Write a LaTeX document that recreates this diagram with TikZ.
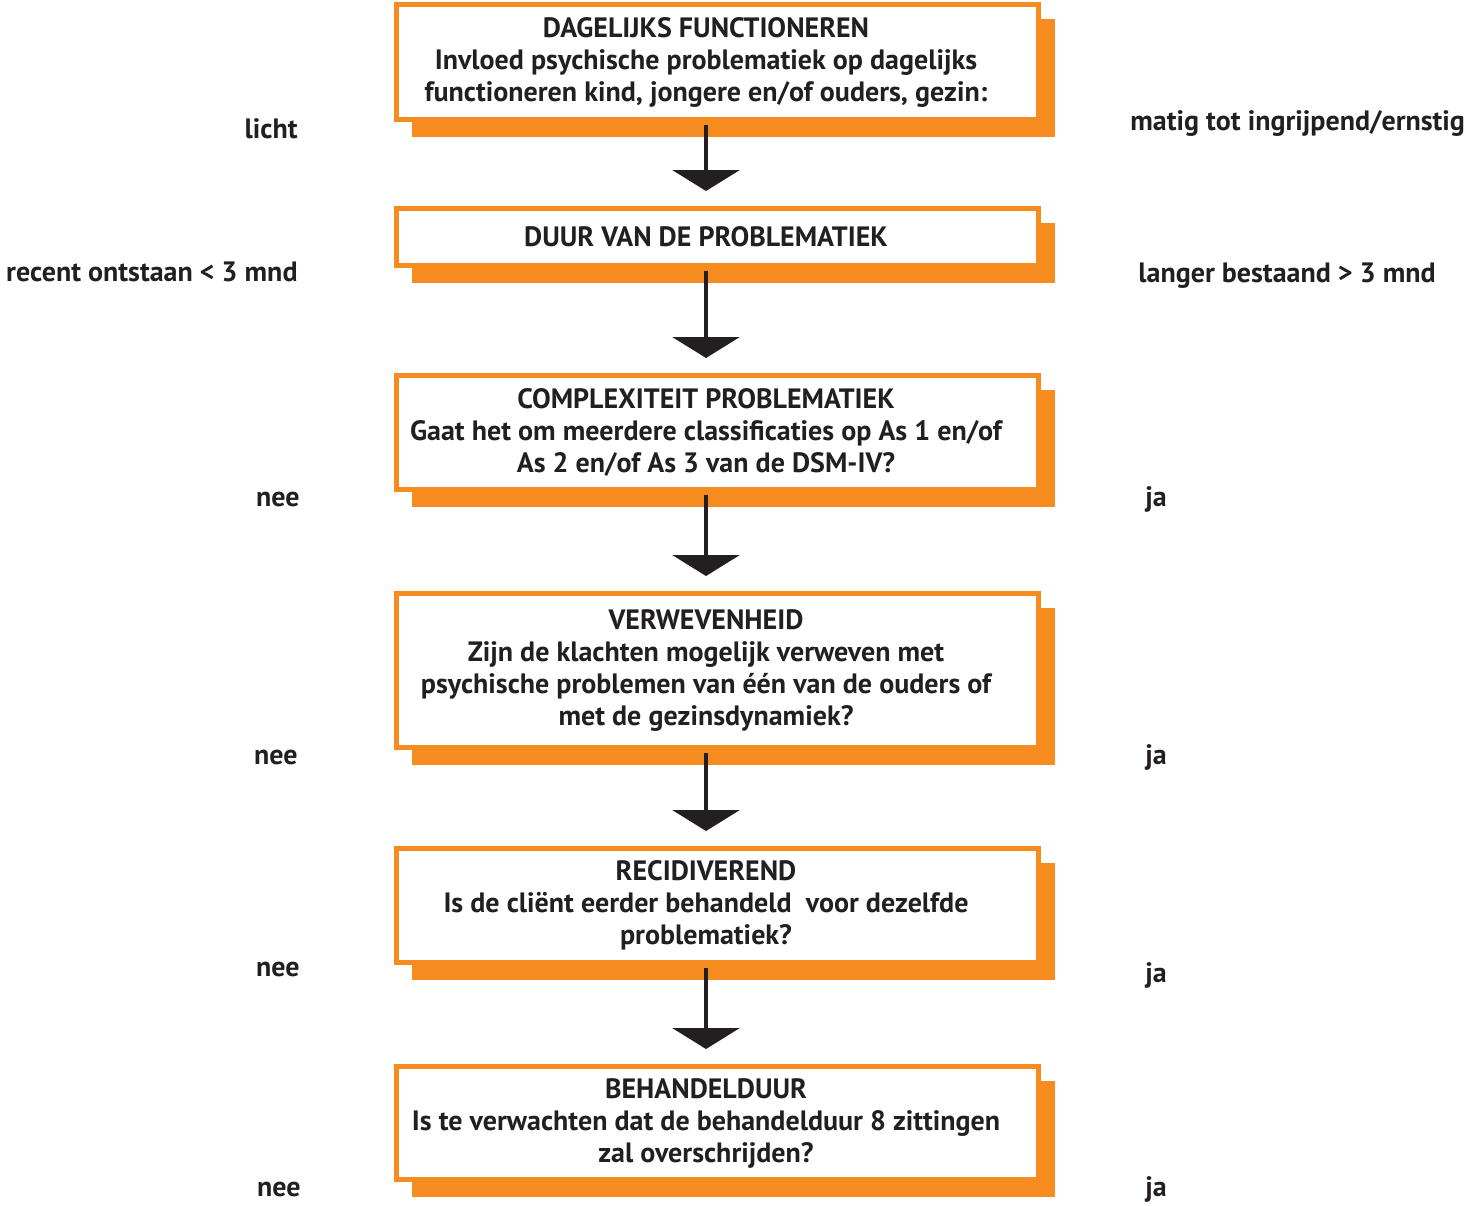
\documentclass[tikz,border=0pt]{standalone}
\usepackage{fontspec}
\setmainfont{PT Sans}
\usetikzlibrary{arrows.meta}
\definecolor{oranje}{HTML}{F68B1F}
\definecolor{inkt}{HTML}{231F20}
\tikzset{
  stapbox/.style={draw=oranje,line width=2.5pt,fill=white,minimum width=321pt,inner sep=0pt},
  staptekst/.style={align=center,font=\bfseries\fontsize{14}{16}\selectfont,text=inkt},
  zijtekst/.style={font=\bfseries\fontsize{14}{16}\selectfont,text=inkt,inner sep=0pt},
  pijl/.style={draw=inkt,line width=2pt,shorten <=1.25pt,shorten >=7.5pt,-{Triangle[width=33.5pt,length=10.5pt]}}
}
\newcommand{\stap}[4]{\fill[oranje] (412,{#2-#3/2+14}) rectangle (1055,{#2+#3/2+17});
\node[stapbox,minimum height=#3*0.5pt] (#1) at (717.5,#2) {};
\node[staptekst] (#1-tekst) at (706,#2) {#4};}

\begin{document}
\begin{tikzpicture}[x=0.5pt,y=-0.5pt]
\useasboundingbox (0,0) rectangle (1466,1205);
\stap{dagelijks}{62}{115}{DAGELIJKS FUNCTIONEREN\\Invloed psychische problematiek op dagelijks\\functioneren kind, jongere en/of ouders, gezin:}
\stap{duur}{237}{57}{DUUR VAN DE PROBLEMATIEK}
\stap{complex}{432.5}{114}{COMPLEXITEIT PROBLEMATIEK\\Gaat het om meerdere classificaties op As 1 en/of\\As 2 en/of As 3 van de DSM-IV?}
\stap{verweven}{670.5}{154}{VERWEVENHEID\\Zijn de klachten mogelijk verweven met\\psychische problemen van \'e\'en van de ouders of\\met de gezinsdynamiek?}
\stap{recidief}{905.5}{114}{RECIDIVEREND\\Is de cli\"ent eerder behandeld\ \ voor dezelfde\\problematiek?}
\stap{behandel}{1123}{113}{BEHANDELDUUR\\Is te verwachten dat de behandelduur 8 zittingen\\zal overschrijden?}
\draw[pijl] (dagelijks-tekst |- dagelijks.south) -- (dagelijks-tekst |- duur.north);
\draw[pijl] (duur-tekst |- duur.south) -- (duur-tekst |- complex.north);
\draw[pijl] (complex-tekst |- complex.south) -- (complex-tekst |- verweven.north);
\draw[pijl] (verweven-tekst |- verweven.south) -- (verweven-tekst |- recidief.north);
\draw[pijl] (recidief-tekst |- recidief.south) -- (recidief-tekst |- behandel.north);
\node[zijtekst,anchor=base east] (licht) at (298,138) {licht};
\node[zijtekst,anchor=base east] (recent) at (298,281) {recent ontstaan < 3 mnd};
\node[zijtekst,anchor=base east] (nee1) at (300,506) {nee};
\node[zijtekst,anchor=base east] (nee2) at (298,764) {nee};
\node[zijtekst,anchor=base east] (nee3) at (300,976) {nee};
\node[zijtekst,anchor=base east] (nee4) at (301,1196) {nee};
\node[zijtekst,anchor=base west] (ernstig) at (1130,130) {matig tot ingrijpend/ernstig};
\node[zijtekst,anchor=base west] (langer) at (1138,282) {langer bestaand > 3 mnd};
\node[zijtekst,anchor=base west] (ja1) at (1145,506) {ja};
\node[zijtekst,anchor=base west] (ja2) at (1145,764) {ja};
\node[zijtekst,anchor=base west] (ja3) at (1145,982) {ja};
\node[zijtekst,anchor=base west] (ja4) at (1145,1196) {ja};
\end{tikzpicture}
\end{document}
